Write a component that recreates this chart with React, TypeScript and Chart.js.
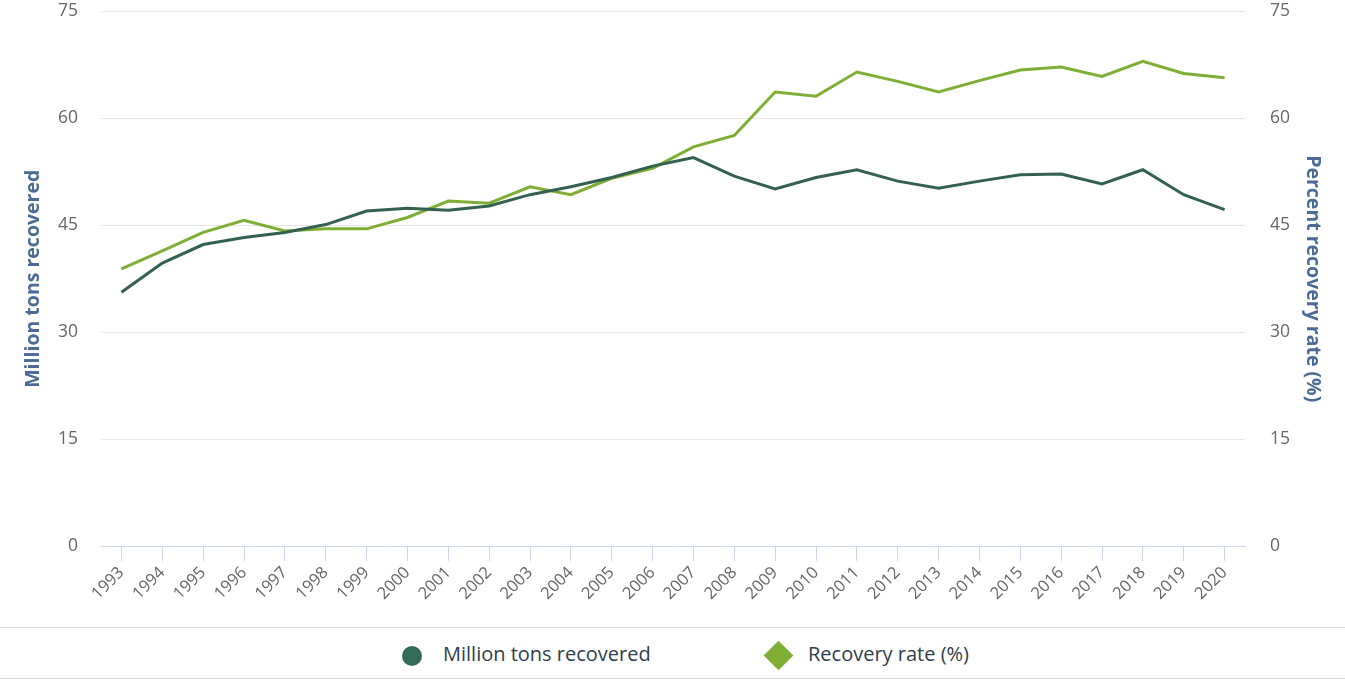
import React, { useEffect, useRef } from "react";
import { Chart, registerables } from "chart.js";

Chart.register(...registerables);

const years = ["1993","1994","1995","1996","1997","1998","1999","2000","2001","2002","2003","2004","2005","2006","2007","2008","2009","2010","2011","2012","2013","2014","2015","2016","2017","2018","2019","2020"];
const tonsRecovered = [35.6, 39.7, 42.3, 43.3, 44.0, 45.1, 47.0, 47.4, 47.1, 47.7, 49.3, 50.4, 51.7, 53.3, 54.5, 51.9, 50.1, 51.7, 52.8, 51.2, 50.2, 51.2, 52.1, 52.2, 50.8, 52.8, 49.3, 47.2];
const recoveryRate = [38.9, 41.4, 44.0, 45.7, 44.2, 44.5, 44.5, 46.1, 48.4, 48.1, 50.4, 49.3, 51.6, 53.0, 56.0, 57.6, 63.7, 63.1, 66.5, 65.2, 63.7, 65.3, 66.8, 67.2, 65.9, 68.0, 66.3, 65.7];
const yTicksLeft = [0, 15, 30, 45, 60, 75];
const seriesNames = ["Million tons recovered", "Recovery rate (%)"];
const axisTitles = ["Million tons recovered", "Percent recovery rate (%)"];

const DARK = "#33614f";
const LIGHT = "#7fae35";
const TITLE_COLOR = "#4b6b96";
const TICK_COLOR = "#666666";

export default function App() {
  const canvasRef = useRef<HTMLCanvasElement | null>(null);

  useEffect(() => {
    document.body.style.margin = "0";
    const ctx = canvasRef.current!;
    const yTickFont = { family: "'Open Sans', sans-serif", size: 17.5 };
    const xTickFont = { family: "'Open Sans', sans-serif", size: 16.5 };
    const titleFont = { family: "'Open Sans', sans-serif", size: 19.5, weight: "bold" as const };
    const chart = new Chart(ctx, {
      type: "line",
      data: {
        labels: years,
        datasets: [
          {
            label: seriesNames[0],
            data: tonsRecovered,
            borderColor: DARK,
            backgroundColor: DARK,
            borderWidth: 3,
            pointRadius: 0,
            tension: 0,
            yAxisID: "y",
          },
          {
            label: seriesNames[1],
            data: recoveryRate,
            borderColor: LIGHT,
            backgroundColor: LIGHT,
            borderWidth: 3,
            pointRadius: 0,
            tension: 0,
            yAxisID: "y1",
          },
        ],
      },
      options: {
        animation: false,
        responsive: true,
        maintainAspectRatio: false,
        layout: { padding: { left: 22, right: 21, top: 0, bottom: 0 } },
        plugins: {
          legend: { display: false },
          tooltip: { enabled: false },
        },
        scales: {
          x: {
            type: "category",
            offset: true,
            grid: {
              display: true,
              drawOnChartArea: false,
              drawTicks: true,
              tickLength: 15,
              color: "#ccd6eb",
            },
            border: { display: true, color: "#ccd6eb", width: 1 },
            ticks: {
              color: TICK_COLOR,
              font: xTickFont,
              minRotation: 45,
              maxRotation: 45,
              autoSkip: false,
              padding: 2,
            },
            afterFit: (scale: any) => {
              scale.height = 74;
            },
          },
          y: {
            type: "linear",
            position: "left",
            min: 0,
            max: 75,
            afterBuildTicks: (scale: any) => {
              scale.ticks = yTicksLeft.map((v) => ({ value: v }));
            },
            grid: { color: "#e6e6e6", drawTicks: true, tickLength: 22, tickColor: "rgba(0,0,0,0)", lineWidth: 1 },
            border: { display: false },
            ticks: { color: TICK_COLOR, font: yTickFont, padding: 1 },
            title: {
              display: true,
              text: axisTitles[0],
              color: TITLE_COLOR,
              font: titleFont,
              padding: { top: 0, bottom: 0 },
            },
            afterFit: (scale: any) => {
              scale.width = 79;
            },
          },
          y1: {
            type: "linear",
            position: "right",
            min: 0,
            max: 75,
            afterBuildTicks: (scale: any) => {
              scale.ticks = yTicksLeft.map((v) => ({ value: v }));
            },
            grid: { drawOnChartArea: false, drawTicks: true, tickLength: 24, tickColor: "rgba(0,0,0,0)" },
            border: { display: false },
            ticks: { color: TICK_COLOR, font: yTickFont, padding: 1 },
            title: {
              display: true,
              text: axisTitles[1],
              color: TITLE_COLOR,
              font: titleFont,
              padding: { top: 0, bottom: 0 },
            },
            afterFit: (scale: any) => {
              scale.width = 79;
            },
          },
        },
      },
    });
    return () => chart.destroy();
  }, []);

  const legendText: React.CSSProperties = {
    position: "absolute",
    top: 1,
    height: 50,
    lineHeight: "50px",
    fontFamily: "'Open Sans', sans-serif",
    fontSize: 20,
    color: "#2f3d4c",
    whiteSpace: "nowrap",
  };

  return (
    <div style={{ position: "absolute", left: 0, top: 0, width: 1345, height: 681, background: "#ffffff", overflow: "hidden" }}>
      <div style={{ position: "absolute", left: 0, top: 0, width: 1345, height: 620 }}>
        <canvas ref={canvasRef} />
      </div>
      <div
        style={{
          position: "absolute",
          left: 0,
          top: 627,
          width: 1345,
          height: 50,
          borderTop: "1px solid #d9d9d9",
          borderBottom: "1px solid #d9d9d9",
        }}
      >
        <div style={{ position: "absolute", left: 402, top: 18, width: 20, height: 20, borderRadius: "50%", background: "#336b57" }} />
        <div style={{ ...legendText, left: 443 }}>{seriesNames[0]}</div>
        <div style={{ position: "absolute", left: 768, top: 17, width: 21, height: 21, background: LIGHT, transform: "rotate(45deg)" }} />
        <div style={{ ...legendText, left: 808 }}>{seriesNames[1]}</div>
      </div>
    </div>
  );
}
